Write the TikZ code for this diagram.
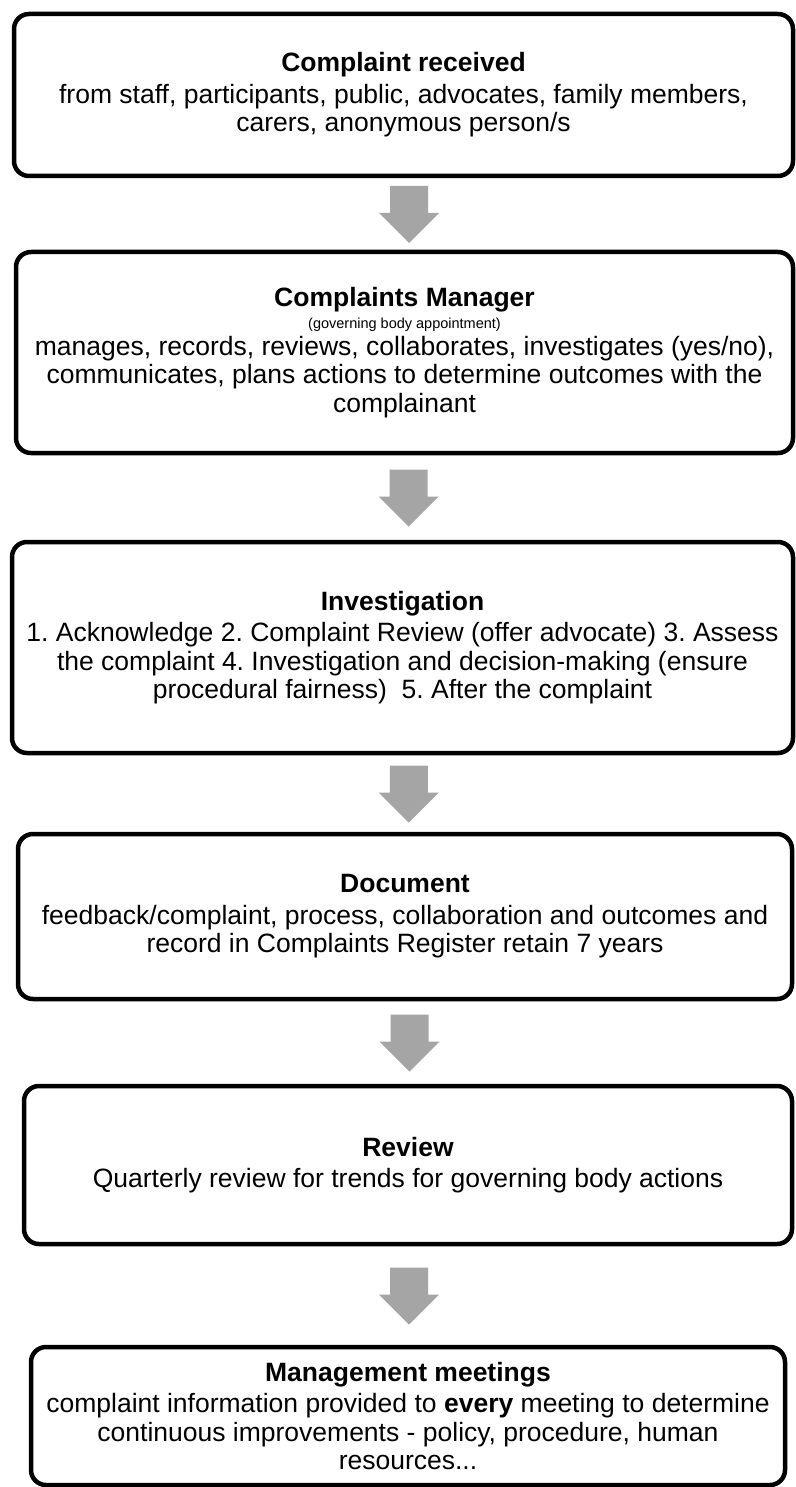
\documentclass[tikz,border=0pt]{standalone}
\usepackage{fontspec}
\setmainfont{Liberation Sans}
\usetikzlibrary{calc}
\frenchspacing
\definecolor{arrowgray}{HTML}{A5A5A5}
\newcommand\blockarrow[1]{\fill[garrow] (#1) ++(-19,28) -- ++(38,0) -- ++(0,-27) -- ++(11,0) -- ++(-30,-30) -- ++(-30,30) -- ++(11,0) -- cycle;}
\begin{document}
\begin{tikzpicture}[x=1pt,y=1pt,
  box/.style={draw=black, line width=4.5pt, rounded corners=15pt, align=center,
    inner sep=0pt, font=\fontsize{26.5}{28.5}\selectfont},
  garrow/.style={fill=arrowgray, draw=none}]
\useasboundingbox (0,0) rectangle (795,-1487);
\fill[white] (0,0) rectangle (795,-1487);

\node[box, minimum width=779, minimum height=162] (b1) at (403.5,-95)
  {\textbf{Complaint received}\\[3pt]
   from staff, participants, public, advocates, family members,\\
   carers, anonymous person/s};

\node[box, minimum width=777, minimum height=201] (b2) at (404.5,-352.5)
  {\textbf{Complaints Manager}\\[-6pt]
   {\fontsize{14.5}{17}\selectfont (governing body appointment)}\\[-2pt]
   manages, records, reviews, collaborates, investigates (yes/no),\\
   communicates, plans actions to determine outcomes with the\\
   complainant};

\node[box, minimum width=781, minimum height=211] (b3) at (402.5,-647.5)
  {\textbf{Investigation}\\[3pt]
   1. Acknowledge 2. Complaint Review (offer advocate) 3. Assess\\
   the complaint 4. Investigation and decision-making (ensure\\
   procedural fairness)\ \ 5. After the complaint};

\node[box, minimum width=774, minimum height=165] (b4) at (405,-916.5)
  {\textbf{Document}\\[3pt]
   feedback/complaint, process, collaboration and outcomes and\\
   record in Complaints Register retain 7 years};

\node[box, minimum width=768, minimum height=158] (b5) at (408,-1165)
  {\textbf{Review}\\[3pt]
   Quarterly review for trends for governing body actions};

\node[box, minimum width=754, minimum height=138] (b6) at (408,-1416)
  {\textbf{Management meetings}\\[3pt]
   complaint information provided to \textbf{every} meeting to determine\\
   continuous improvements - policy, procedure, human\\
   resources...};

\coordinate (m1) at ($(b1.south)!0.5!(b2.north)+(5,0)$);
\coordinate (m2) at ($(b2.south)!0.5!(b3.north)+(5,0)$);
\coordinate (m3) at ($(b3.south)!0.5!(b4.north)+(5,0)$);
\coordinate (m4) at ($(b4.south)!0.5!(b5.north)+(3,0)$);
\coordinate (m5) at ($(b5.south)!0.5!(b6.north)+(1,0)$);
\blockarrow{m1}
\blockarrow{m2}
\blockarrow{m3}
\blockarrow{m4}
\blockarrow{m5}
\end{tikzpicture}
\end{document}
